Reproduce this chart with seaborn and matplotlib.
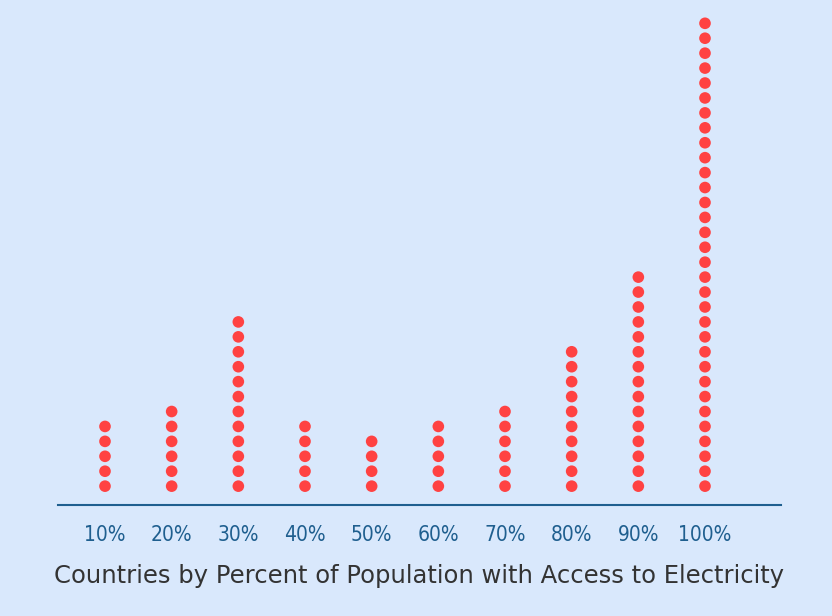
import pandas as pd
import matplotlib.pyplot as plt
import seaborn as sns

# Countries per access bucket (dot counts)
categories = ['10%', '20%', '30%', '40%', '50%', '60%', '70%', '80%', '90%', '100%']
counts = [5, 6, 12, 5, 4, 5, 6, 10, 15, 32]

rows = []
for i, (cat, n) in enumerate(zip(categories, counts)):
    for k in range(1, n + 1):
        rows.append({'pos': i, 'level': k})
dots = pd.DataFrame(rows)

bg = '#d9e8fc'
fig = plt.figure(figsize=(8.32, 6.16), dpi=100, facecolor=bg)
ax = fig.add_axes([58 / 832, 0.180, (781 - 58) / 832, 0.984 - 0.180])
ax.set_facecolor(bg)

sns.scatterplot(data=dots, x='pos', y='level', ax=ax, color='#ff4242',
                s=70, edgecolor='none', legend=False)

ax.set_xlim(-0.705, 10.14)
ax.set_ylim(-0.27, 32.9)
ax.set_xticks(range(len(categories)))
ax.set_xticklabels(categories, color='#1f5f8f', fontsize=15, family='DejaVu Sans',
                   fontstretch='condensed')
ax.tick_params(axis='x', length=0, pad=14)
ax.set_yticks([])
for s in ['top', 'right', 'left']:
    ax.spines[s].set_visible(False)
ax.spines['bottom'].set_color('#1f5f8f')
ax.spines['bottom'].set_linewidth(1.5)
ax.set_xlabel('Countries by Percent of Population with Access to Electricity',
              fontsize=17.5, color='#333333', labelpad=14)
ax.set_ylabel('')

fig.savefig('out.png', dpi=100, facecolor=bg)
